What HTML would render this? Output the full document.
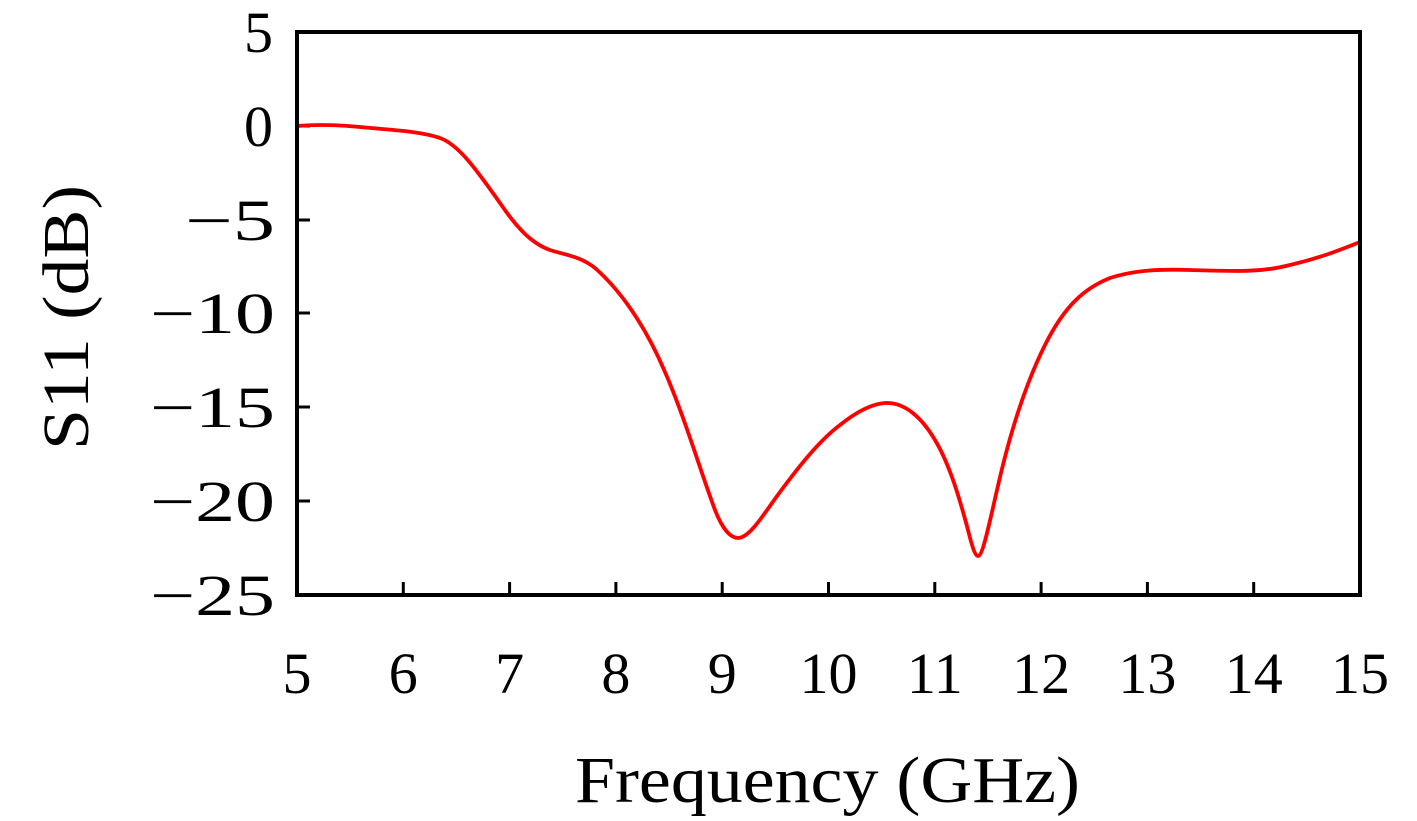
<!DOCTYPE html>
<html><head><meta charset="utf-8"><style>
html,body{margin:0;padding:0;background:#fff;}
svg text{font-family:"Liberation Serif",serif;fill:#000;}
</style></head><body>
<svg width="1417" height="816" viewBox="0 0 1417 816" xmlns="http://www.w3.org/2000/svg">
<rect width="1417" height="816" fill="#fff"/>
<g stroke="#000" stroke-width="3">
<line x1="403.3" y1="595" x2="403.3" y2="582"/>
<line x1="509.6" y1="595" x2="509.6" y2="582"/>
<line x1="615.9" y1="595" x2="615.9" y2="582"/>
<line x1="722.2" y1="595" x2="722.2" y2="582"/>
<line x1="828.5" y1="595" x2="828.5" y2="582"/>
<line x1="934.8" y1="595" x2="934.8" y2="582"/>
<line x1="1041.1" y1="595" x2="1041.1" y2="582"/>
<line x1="1147.4" y1="595" x2="1147.4" y2="582"/>
<line x1="1253.7" y1="595" x2="1253.7" y2="582"/>
<line x1="297" y1="126" x2="310" y2="126"/>
<line x1="297" y1="220" x2="310" y2="220"/>
<line x1="297" y1="313" x2="310" y2="313"/>
<line x1="297" y1="407" x2="310" y2="407"/>
<line x1="297" y1="501" x2="310" y2="501"/>
</g>
<path fill="none" stroke="#ff0000" stroke-width="3.8" stroke-linejoin="round" d="M297,126 C320,124 340,125 360,127 C390,130 420,131 440,138 C460,145 480,175 500,203 C515,225 530,243 550,250 C565,255 580,256 595,268 C620,290 645,325 665,372 C685,418 700,470 715,510 C722,528 730,538 738,538 C750,538 765,512 780,492 C800,465 820,440 840,425 C855,413 870,404 885,403 C905,402 922,418 935,440 C950,465 960,500 968,530 C972,546 975,556 978,556 C983,556 990,520 997,490 C1010,432 1025,385 1045,345 C1065,305 1085,288 1110,278 C1135,270 1160,269 1190,270 C1230,271 1260,273 1290,265 C1320,258 1340,250 1360,242"/>
<rect x="297" y="32" width="1063" height="563" fill="none" stroke="#000" stroke-width="4"/>
<g font-size="58" text-anchor="middle">
<text x="297" y="693">5</text>
<text x="403.3" y="693">6</text>
<text x="509.6" y="693">7</text>
<text x="615.9" y="693">8</text>
<text x="722.2" y="693">9</text>
<text x="828.5" y="693">10</text>
<text x="934.8" y="693">11</text>
<text x="1041.1" y="693">12</text>
<text x="1147.4" y="693">13</text>
<text x="1253.7" y="693">14</text>
<text x="1360" y="693">15</text>
</g>
<g font-size="58">
<text x="244" y="52">5</text>
<text x="244" y="146">0</text>
<text x="185" y="240" textLength="90" lengthAdjust="spacingAndGlyphs">−5</text>
<text x="150" y="333" textLength="125" lengthAdjust="spacingAndGlyphs">−10</text>
<text x="150" y="427" textLength="125" lengthAdjust="spacingAndGlyphs">−15</text>
<text x="150" y="521" textLength="125" lengthAdjust="spacingAndGlyphs">−20</text>
<text x="150" y="615" textLength="125" lengthAdjust="spacingAndGlyphs">−25</text>
</g>
<text x="575" y="802" font-size="66" textLength="505" lengthAdjust="spacingAndGlyphs">Frequency (GHz)</text>
<text transform="translate(88,450) rotate(-90)" font-size="66" textLength="265" lengthAdjust="spacingAndGlyphs">S11 (dB)</text>
</svg>
</body></html>
